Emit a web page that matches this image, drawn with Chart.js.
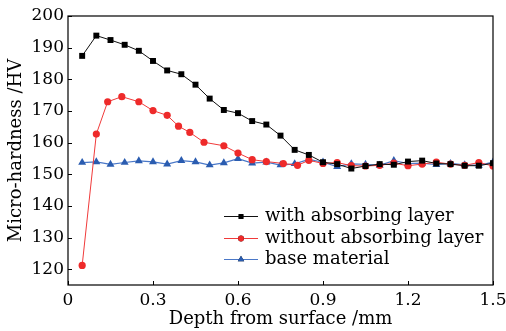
<!DOCTYPE html>
<html>
<head>
<meta charset="utf-8">
<script src="https://cdn.jsdelivr.net/npm/chart.js@4.4.1/dist/chart.umd.min.js"></script>
<style>
  html, body { margin: 0; padding: 0; background: #fff; }
  #wrap { width: 506px; height: 331px; }
</style>
</head>
<body>
<div id="wrap"><canvas id="hardnessChart" width="506" height="331"></canvas></div>
<script>
// data
const depth = [0.05, 0.10, 0.15, 0.20, 0.25, 0.30, 0.35, 0.40, 0.45, 0.50,
  0.55, 0.60, 0.65, 0.70, 0.75, 0.80, 0.85, 0.90, 0.95, 1.00,
  1.05, 1.10, 1.15, 1.20, 1.25, 1.30, 1.35, 1.40, 1.45, 1.50];
const withLayer = [187.4, 193.8, 192.4, 190.9, 189.0, 185.8, 182.8, 181.6, 178.3, 173.9,
  170.3, 169.3, 166.8, 165.7, 162.2, 157.7, 156.1, 153.8, 153.2, 151.8,
  152.6, 153.2, 153.0, 154.0, 154.3, 153.4, 153.2, 152.7, 152.7, 153.5];
const depthNoLayer = [0.05, 0.10, 0.14, 0.19, 0.25, 0.30, 0.35, 0.39, 0.43, 0.48,
  0.55, 0.60, 0.65, 0.70, 0.76, 0.81, 0.85, 0.90, 0.95, 1.00,
  1.05, 1.10, 1.15, 1.20, 1.25, 1.30, 1.35, 1.40, 1.45, 1.50];
const withoutLayer = [121.2, 162.7, 172.9, 174.5, 172.9, 170.1, 168.6, 165.2, 163.2, 160.1,
  159.0, 156.7, 154.6, 154.0, 153.4, 152.8, 154.4, 153.4, 153.7, 152.7,
  152.6, 152.8, 153.5, 152.7, 153.2, 153.8, 153.2, 152.8, 153.7, 152.6];
const baseMaterial = [153.7, 153.9, 153.1, 153.7, 154.2, 153.9, 153.2, 154.3, 153.9, 152.9,
  153.6, 154.9, 153.5, 153.8, 152.9, 153.3, 154.7, 153.8, 152.4, 153.3,
  153.1, 152.8, 154.3, 153.4, 153.5, 153.0, 153.4, 153.0, 152.8, 153.8];
const xTicks = [0, 0.3, 0.6, 0.9, 1.2, 1.5];
const yTicks = [120, 130, 140, 150, 160, 170, 180, 190, 200];

const FONT = "'DejaVu Serif', serif";

function pairs(xs, ys) {
  return xs.map((x, i) => ({ x: x, y: ys[i] }));
}

// frame + inward ticks
const framePlugin = {
  id: "frame",
  afterDatasetsDraw(chart) {
    const { ctx, chartArea: a, scales } = chart;
    ctx.save();
    ctx.strokeStyle = "#000";
    ctx.lineWidth = 1;
    ctx.beginPath();
    xTicks.forEach((v) => {
      const px = Math.round(scales.x.getPixelForValue(v)) + 0.5;
      ctx.moveTo(px, a.bottom);
      ctx.lineTo(px, a.bottom - 4);
    });
    yTicks.forEach((v) => {
      const py = Math.round(scales.y.getPixelForValue(v)) + 0.5;
      ctx.moveTo(a.left, py);
      ctx.lineTo(a.left + 4, py);
    });
    ctx.stroke();
    ctx.lineWidth = 1.2;
    ctx.strokeRect(a.left, a.top, a.right - a.left, a.bottom - a.top);
    ctx.restore();
  },
};

// legend inside the plot, lower right
const legendPlugin = {
  id: "innerLegend",
  afterDraw(chart) {
    const ctx = chart.ctx;
    const x0 = 224, lineLen = 34, textX = 265;
    const rows = [216, 238, 259];
    ctx.save();
    ctx.font = "18px " + FONT;
    ctx.textBaseline = "middle";
    chart.data.datasets.forEach((ds, i) => {
      const y = rows[i];
      ctx.strokeStyle = ds.borderColor;
      ctx.lineWidth = ds.borderWidth;
      ctx.beginPath();
      ctx.moveTo(x0, y + 0.5);
      ctx.lineTo(x0 + lineLen, y + 0.5);
      ctx.stroke();
      Chart.helpers.drawPoint(ctx, {
        pointStyle: ds.pointStyle,
        radius: ds.pointRadius * 0.8,
        rotation: 0,
        borderWidth: 0,
      }, x0 + lineLen / 2, y + 0.5);
      ctx.fillStyle = ds.pointBackgroundColor;
      ctx.fill();
      ctx.fillStyle = "#000";
      ctx.fillText(ds.label, textX, y);
    });
    ctx.restore();
  },
};

const ctx = document.getElementById("hardnessChart").getContext("2d");
new Chart(ctx, {
  type: "scatter",
  data: {
    datasets: [
      {
        label: "with absorbing layer",
        data: pairs(depth, withLayer),
        showLine: true,
        borderColor: "#111111",
        borderWidth: 1,
        pointStyle: "rect",
        pointRadius: 4.2,
        pointBackgroundColor: "#000000",
        pointBorderWidth: 0,
      },
      {
        label: "without absorbing layer",
        data: pairs(depthNoLayer, withoutLayer),
        showLine: true,
        borderColor: "#f03a3a",
        borderWidth: 1,
        pointStyle: "circle",
        pointRadius: 3.6,
        pointBackgroundColor: "#ee2a2a",
        pointBorderWidth: 0,
      },
      {
        label: "base material",
        data: pairs(depth, baseMaterial),
        showLine: true,
        borderColor: "#4a78c8",
        borderWidth: 1.2,
        pointStyle: "triangle",
        pointRadius: 4.6,
        pointBackgroundColor: "#2a5cb0",
        pointBorderWidth: 0,
      },
    ],
  },
  options: {
    responsive: false,
    animation: false,
    layout: { padding: { top: 16, right: 13, left: 0, bottom: 0 } },
    plugins: { legend: { display: false }, tooltip: { enabled: false } },
    scales: {
      x: {
        type: "linear",
        min: 0,
        max: 1.5,
        afterBuildTicks: (s) => { s.ticks = xTicks.map((v) => ({ value: v })); },
        afterFit: (s) => { s.height = 46; s.paddingLeft = 0; s.paddingRight = 0; },
        grid: { display: false, drawTicks: false },
        border: { display: false },
        ticks: {
          padding: 5,
          color: "#000",
          font: { family: FONT, size: 17 },
          maxRotation: 0,
          callback: (v) => String(v),
        },
        title: {
          display: true,
          text: "Depth from surface /mm",
          color: "#000",
          font: { family: FONT, size: 18 },
          padding: { top: 0, bottom: 1 },
        },
      },
      y: {
        min: 115,
        max: 200,
        afterBuildTicks: (s) => { s.ticks = yTicks.map((v) => ({ value: v })); },
        afterFit: (s) => { s.width = 68; s.paddingTop = 0; s.paddingBottom = 0; },
        grid: { display: false, drawTicks: false },
        border: { display: false },
        ticks: {
          padding: 4,
          color: "#000",
          font: { family: FONT, size: 17 },
        },
        title: {
          display: true,
          text: "Micro-hardness /HV",
          color: "#000",
          font: { family: FONT, size: 18 },
          padding: { top: 6, bottom: 0 },
        },
      },
    },
  },
  plugins: [framePlugin, legendPlugin],
});
</script>
</body>
</html>
